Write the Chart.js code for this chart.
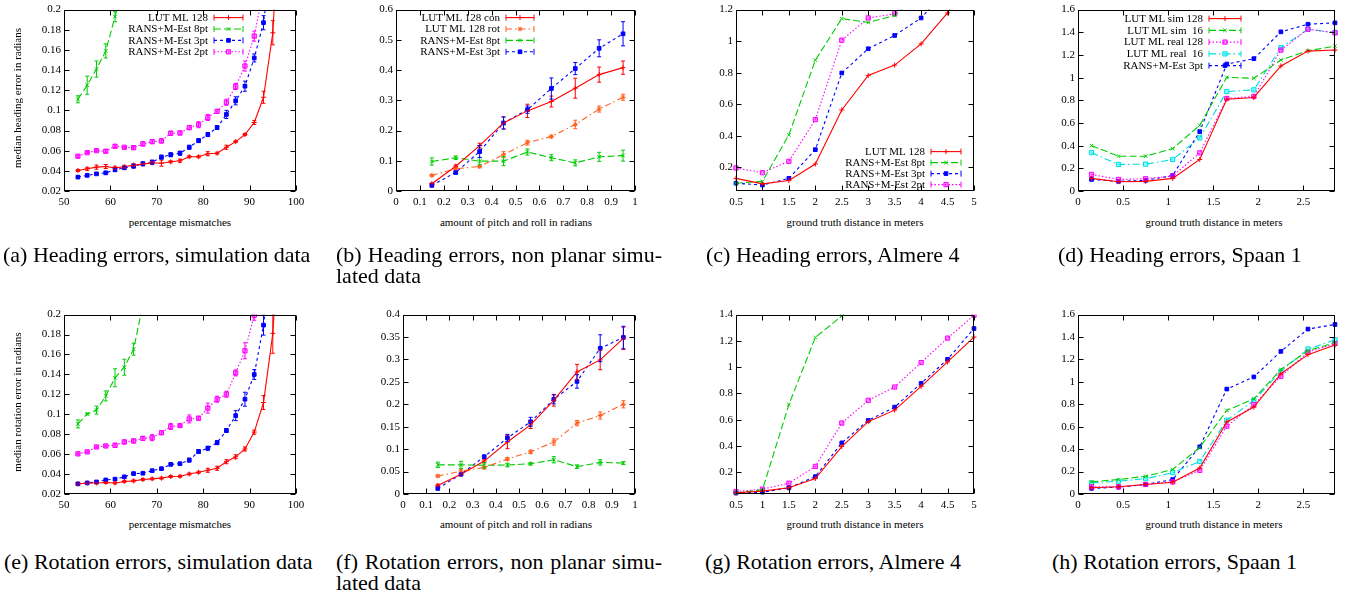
<!DOCTYPE html>
<html>
<head>
<meta charset="utf-8">
<script src="https://cdn.jsdelivr.net/npm/chart.js@4.4.0/dist/chart.umd.min.js"></script>
<style>
  body { margin: 0; background: #fff; width: 1351px; height: 597px; position: relative; overflow: hidden; font-family: 'Liberation Serif', 'Times New Roman', serif; color: #000; }
  canvas { position: absolute; }
  .cap { position: absolute; font-size: 22px; line-height: 21px; white-space: nowrap; }
  .just { width: 326px; text-align: justify; text-align-last: justify; }
  .xt { position: absolute; width: 300px; text-align: center; font-size: 11px; line-height: 12px; }
  .yt { position: absolute; width: 220px; text-align: center; font-size: 11px; line-height: 12px; transform: rotate(-90deg); }
</style>
</head>
<body>
<canvas id="ca"></canvas><canvas id="cb"></canvas><canvas id="cc"></canvas><canvas id="cd"></canvas>
<canvas id="ce"></canvas><canvas id="cf"></canvas><canvas id="cg"></canvas><canvas id="ch"></canvas>

<div class="yt" style="left:-93px;top:92px">median heading error in radians</div>
<div class="yt" style="left:-93px;top:396px">median rotation error in radians</div>

<div class="xt" style="left:30px;top:216px">percentage mismatches</div>
<div class="xt" style="left:366px;top:216px">amount of pitch and roll in radians</div>
<div class="xt" style="left:705px;top:216px">ground truth distance in meters</div>
<div class="xt" style="left:1064px;top:216px">ground truth distance in meters</div>
<div class="xt" style="left:30px;top:518px">percentage mismatches</div>
<div class="xt" style="left:366px;top:518px">amount of pitch and roll in radians</div>
<div class="xt" style="left:705px;top:518px">ground truth distance in meters</div>
<div class="xt" style="left:1064px;top:518px">ground truth distance in meters</div>

<div class="cap" style="left:3px;top:244px">(a) Heading errors, simulation data</div>
<div class="cap just" style="left:336px;top:244px">(b) Heading errors, non planar simu-</div>
<div class="cap" style="left:336px;top:265px">lated data</div>
<div class="cap" style="left:706px;top:244px">(c) Heading errors, Almere 4</div>
<div class="cap" style="left:1058px;top:244px">(d) Heading errors, Spaan 1</div>
<div class="cap" style="left:4px;top:551px">(e) Rotation errors, simulation data</div>
<div class="cap just" style="left:336px;top:551px">(f) Rotation errors, non planar simu-</div>
<div class="cap" style="left:336px;top:572px">lated data</div>
<div class="cap" style="left:705px;top:551px">(g) Rotation errors, Almere 4</div>
<div class="cap" style="left:1052px;top:551px">(h) Rotation errors, Spaan 1</div>

<script>
// ---- data ----
const aX = [53, 55, 57, 59, 61, 63, 65, 67, 69, 71, 73, 75, 77, 79, 81, 83, 85, 87, 89, 91, 93, 95, 97];
const aLut = [0.0404, 0.042, 0.0437, 0.0443, 0.043, 0.044, 0.0457, 0.0467, 0.048, 0.0476, 0.049, 0.050, 0.054, 0.054, 0.057, 0.0575, 0.0634, 0.069, 0.076, 0.088, 0.113, 0.177, 0.34];
const aLutErr = [0.001, 0.0015, 0.002, 0.002, 0.0015, 0.0015, 0.001, 0.001, 0.0015, 0.003, 0.001, 0.0015, 0.001, 0.001, 0.002, 0.001, 0.002, 0.001, 0.001, 0.002, 0.006, 0.012, 0];
const aM8 = [0.111, 0.125, 0.141, 0.159, 0.193, 0.23];
const aM8Err = [0.0035, 0.009, 0.008, 0.007, 0.005, 0];
const aM3 = [0.0338, 0.0355, 0.037, 0.038, 0.041, 0.043, 0.0447, 0.047, 0.0486, 0.0536, 0.056, 0.0575, 0.0634, 0.070, 0.076, 0.083, 0.096, 0.1095, 0.124, 0.152, 0.187, 0.26];
const aM3Err = [0.001, 0.001, 0.001, 0.0015, 0.0015, 0.0015, 0.002, 0.002, 0.002, 0.002, 0.002, 0.002, 0.002, 0.002, 0.002, 0.002, 0.004, 0.004, 0.005, 0.004, 0.007, 0];
const aM2 = [0.0545, 0.058, 0.060, 0.0595, 0.0644, 0.0634, 0.063, 0.0667, 0.069, 0.0697, 0.0773, 0.0776, 0.0829, 0.0858, 0.093, 0.099, 0.108, 0.1237, 0.144, 0.1737, 0.22];
const aM2Err = [0.001, 0.001, 0.001, 0.0015, 0.0015, 0.001, 0.0015, 0.002, 0.002, 0.002, 0.002, 0.002, 0.002, 0.003, 0.003, 0.002, 0.003, 0.003, 0.005, 0.005, 0];

const bX = [0.15, 0.25, 0.35, 0.45, 0.55, 0.65, 0.75, 0.85, 0.95];
const bCon = [0.024, 0.082, 0.150, 0.225, 0.265, 0.296, 0.340, 0.385, 0.408];
const bConErr = [0.003, 0.004, 0.008, 0.02, 0.022, 0.018, 0.033, 0.025, 0.022];
const bRot = [0.0515, 0.0735, 0.081, 0.12, 0.16, 0.18, 0.22, 0.271, 0.310];
const bRotErr = [0.003, 0.003, 0.004, 0.01, 0.008, 0.004, 0.014, 0.01, 0.01];
const bM8 = [0.0976, 0.11, 0.0987, 0.0987, 0.129, 0.11, 0.093, 0.113, 0.117];
const bM8Err = [0.012, 0.006, 0.012, 0.015, 0.01, 0.01, 0.01, 0.015, 0.018];
const bM3 = [0.0186, 0.0614, 0.1305, 0.225, 0.269, 0.339, 0.405, 0.472, 0.52];
const bM3Err = [0.004, 0.005, 0.02, 0.02, 0.012, 0.035, 0.02, 0.028, 0.04];

const cX = [0.5, 1, 1.5, 2, 2.5, 3, 3.5, 4, 4.5, 5];
const cLut = [0.13, 0.095, 0.116, 0.221, 0.564, 0.783, 0.848, 0.983, 1.179, 1.42];
const cM8 = [0.099, 0.111, 0.406, 0.88, 1.143, 1.118, 1.162, 1.30];
const cM3 = [0.099, 0.088, 0.13, 0.312, 0.798, 0.952, 1.036, 1.147, 1.33];
const cM2 = [0.196, 0.166, 0.238, 0.503, 1.006, 1.147, 1.173, 1.30];

const dX = [0.15, 0.45, 0.75, 1.05, 1.35, 1.65, 1.95, 2.25, 2.55, 2.85];
const dSim128 = [0.111, 0.082, 0.085, 0.111, 0.278, 0.81, 0.825, 1.103, 1.234, 1.243];
const dSim16 = [0.40, 0.307, 0.307, 0.374, 0.579, 1.003, 0.994, 1.155, 1.237, 1.278];
const dReal128 = [0.146, 0.102, 0.108, 0.132, 0.336, 0.816, 0.834, 1.243, 1.427, 1.395];
const dReal16 = [0.339, 0.234, 0.237, 0.278, 0.468, 0.877, 0.892, 1.264, 1.427, 1.398];
const dM3 = [0.102, 0.085, 0.094, 0.137, 0.524, 1.12, 1.167, 1.404, 1.471, 1.483];

const eLut = [0.0302, 0.031, 0.0311, 0.0316, 0.031, 0.0326, 0.0332, 0.0345, 0.0352, 0.0359, 0.0375, 0.0378, 0.0401, 0.0418, 0.0438, 0.0458, 0.0524, 0.0573, 0.0652, 0.0821, 0.1118, 0.1812, 0.33];
const eLutErr = [0.001, 0.001, 0.001, 0.001, 0.001, 0.001, 0.001, 0.001, 0.001, 0.001, 0.001, 0.001, 0.001, 0.001, 0.002, 0.002, 0.002, 0.002, 0.002, 0.002, 0.007, 0.02, 0];
const eM8 = [0.0903, 0.1003, 0.1042, 0.1184, 0.1366, 0.1472, 0.1653, 0.21];
const eM8Err = [0.004, 0.001, 0.004, 0.005, 0.009, 0.008, 0.006, 0];
const eM3 = [0.0302, 0.0311, 0.0321, 0.0341, 0.0349, 0.0372, 0.0405, 0.0408, 0.0434, 0.0454, 0.0497, 0.0504, 0.054, 0.0626, 0.0659, 0.0715, 0.0837, 0.0986, 0.1151, 0.1399, 0.1894, 0.27];
const eM3Err = [0.001, 0.001, 0.001, 0.001, 0.001, 0.001, 0.001, 0.001, 0.001, 0.001, 0.001, 0.001, 0.002, 0.002, 0.002, 0.002, 0.002, 0.005, 0.007, 0.005, 0.01, 0];
const eM2 = [0.0603, 0.0623, 0.0672, 0.0682, 0.0689, 0.0722, 0.0732, 0.0758, 0.0765, 0.0815, 0.0877, 0.0887, 0.0953, 0.096, 0.1062, 0.1151, 0.1201, 0.1415, 0.1637, 0.1993, 0.25];
const eM2Err = [0.001, 0.001, 0.001, 0.001, 0.002, 0.002, 0.002, 0.002, 0.003, 0.002, 0.003, 0.001, 0.004, 0.002, 0.005, 0.003, 0.003, 0.003, 0.008, 0.005, 0];

const fCon = [0.019, 0.044, 0.0734, 0.116, 0.154, 0.209, 0.272, 0.299, 0.347];
const fConErr = [0.003, 0.003, 0.004, 0.015, 0.008, 0.013, 0.017, 0.022, 0.025];
const fRot = [0.040, 0.051, 0.059, 0.078, 0.094, 0.116, 0.158, 0.175, 0.200];
const fRotErr = [0.002, 0.003, 0.003, 0.003, 0.004, 0.007, 0.006, 0.008, 0.008];
const fM8 = [0.065, 0.065, 0.064, 0.0646, 0.0675, 0.0763, 0.061, 0.0705, 0.069];
const fM8Err = [0.006, 0.008, 0.006, 0.004, 0.003, 0.007, 0.004, 0.006, 0.003];
const fM3 = [0.0125, 0.044, 0.083, 0.125, 0.161, 0.211, 0.251, 0.325, 0.349];
const fM3Err = [0.003, 0.003, 0.004, 0.008, 0.01, 0.01, 0.015, 0.03, 0.025];

const gLut = [0.044, 0.057, 0.082, 0.152, 0.396, 0.585, 0.673, 0.854, 1.04, 1.229];
const gM8 = [0.044, 0.067, 0.716, 1.226, 1.39, 1.6];
const gM3 = [0.042, 0.049, 0.082, 0.167, 0.424, 0.595, 0.696, 0.877, 1.06, 1.294];
const gM2 = [0.054, 0.072, 0.117, 0.245, 0.575, 0.748, 0.849, 1.035, 1.221, 1.395];

const hSim128 = [0.056, 0.064, 0.085, 0.105, 0.231, 0.643, 0.775, 1.073, 1.243, 1.328];
const hSim16 = [0.108, 0.129, 0.158, 0.219, 0.415, 0.746, 0.848, 1.111, 1.278, 1.351];
const hReal128 = [0.064, 0.064, 0.085, 0.108, 0.211, 0.605, 0.796, 1.05, 1.264, 1.342];
const hReal16 = [0.099, 0.114, 0.137, 0.19, 0.29, 0.658, 0.834, 1.094, 1.293, 1.375];
const hM3 = [0.05, 0.061, 0.085, 0.129, 0.421, 0.936, 1.044, 1.272, 1.471, 1.512];

// tick labels
const pctTicks = [50, 60, 70, 80, 90, 100];
const pctYTicks = [0.02, 0.04, 0.06, 0.08, 0.1, 0.12, 0.14, 0.16, 0.18, 0.2];
const pitchTicks = [0, 0.1, 0.2, 0.3, 0.4, 0.5, 0.6, 0.7, 0.8, 0.9, 1];
const pitchYTicks = [0, 0.1, 0.2, 0.3, 0.4, 0.5, 0.6];
const pitchRotYTicks = [0, 0.05, 0.1, 0.15, 0.2, 0.25, 0.3, 0.35, 0.4];
const almereTicks = [0.5, 1, 1.5, 2, 2.5, 3, 3.5, 4, 4.5, 5];
const almereYTicks = [0.2, 0.4, 0.6, 0.8, 1, 1.2];
const almereRotYTicks = [0.2, 0.4, 0.6, 0.8, 1, 1.2, 1.4];
const spaanTicks = [0, 0.5, 1, 1.5, 2, 2.5];
const spaanYTicks = [0, 0.2, 0.4, 0.6, 0.8, 1, 1.2, 1.4, 1.6];

// ---- styling ----
const FONT = "'Liberation Serif', 'Times New Roman', serif";
const sty = {
    red:     { color: '#ff0000', dash: [], point: 'cross', r: 2.5, fill: '#ff0000' },
    green:   { color: '#00cc00', dash: [7, 3], point: 'crossRot', r: 2.5, fill: '#00cc00' },
    blue:    { color: '#0000ff', dash: [3, 3], point: 'rect', r: 2.6, fill: '#0000ff' },
    magenta: { color: '#ff00ff', dash: [1.5, 2], point: 'rect', r: 3, fill: 'rgba(255,0,255,0.45)' },
    orange:  { color: '#ff6020', dash: [6, 3, 1.5, 3], point: 'star', r: 2.5, fill: '#ff6020' },
    cyan:    { color: '#00dcdc', dash: [7, 3, 1.5, 3], point: 'rect', r: 3, fill: 'rgba(0,255,255,0.45)' }
};

function series(label, xs, ys, s, err) {
    return {
        label: label,
        data: ys.map((y, i) => ({ x: xs[i], y: y })),
        err: err,
        borderColor: s.color,
        backgroundColor: s.fill,
        borderDash: s.dash,
        borderWidth: 1.1,
        pointStyle: s.point,
        pointRadius: s.r,
        pointBorderWidth: 1,
        pointBorderColor: s.color,
        pointBackgroundColor: s.fill,
        tension: 0,
        clip: { left: 6, right: 6, top: 0, bottom: 6 }
    };
}

const fmt = v => String(+v.toFixed(3));

// gnuplot-like frame, inward mirrored ticks, error bars and key
const gnuFrame = {
    id: 'gnuFrame',
    afterDatasetsDraw(chart, args, opts) {
        const { ctx, chartArea: a } = chart;
        const xs = chart.scales.x, ys = chart.scales.y;

        ctx.save();
        ctx.beginPath();
        ctx.rect(a.left, a.top, a.width, a.height + 4);
        ctx.clip();
        chart.data.datasets.forEach(ds => {
            if (!ds.err) return;
            ctx.strokeStyle = ds.borderColor;
            ctx.lineWidth = 1;
            ctx.setLineDash([]);
            ctx.beginPath();
            ds.data.forEach((p, j) => {
                const e = ds.err[j];
                if (!e) return;
                const px = xs.getPixelForValue(p.x);
                const t = ys.getPixelForValue(p.y + e), b = ys.getPixelForValue(p.y - e);
                ctx.moveTo(px, t); ctx.lineTo(px, b);
                ctx.moveTo(px - 2, t); ctx.lineTo(px + 2, t);
                ctx.moveTo(px - 2, b); ctx.lineTo(px + 2, b);
            });
            ctx.stroke();
        });
        ctx.restore();

        ctx.save();
        ctx.strokeStyle = '#000';
        ctx.lineWidth = 1;
        ctx.setLineDash([]);
        const L = Math.round(a.left) + 0.5, R = Math.round(a.right) - 0.5;
        const T = Math.round(a.top) + 0.5, B = Math.round(a.bottom) - 0.5;
        ctx.strokeRect(L, T, R - L, B - T);
        ctx.beginPath();
        xs.ticks.forEach(t => {
            const px = Math.round(xs.getPixelForValue(t.value)) + 0.5;
            ctx.moveTo(px, B); ctx.lineTo(px, B - 5);
            ctx.moveTo(px, T); ctx.lineTo(px, T + 5);
        });
        ys.ticks.forEach(t => {
            const py = Math.round(ys.getPixelForValue(t.value)) + 0.5;
            ctx.moveTo(L, py); ctx.lineTo(L + 5, py);
            ctx.moveTo(R, py); ctx.lineTo(R - 5, py);
        });
        ctx.stroke();

        const key = opts.key;
        if (key) {
            ctx.font = '11px ' + FONT;
            ctx.textAlign = 'right';
            ctx.textBaseline = 'middle';
            chart.data.datasets.forEach((ds, i) => {
                const y = a.top + key.dy + i * key.gap;
                const x0 = a.left + key.dx;
                ctx.fillStyle = '#000';
                ctx.fillText(ds.label, x0, y + 0.5);
                const s0 = x0 + 6, s1 = s0 + key.len;
                ctx.strokeStyle = ds.borderColor;
                ctx.lineWidth = 1.1;
                ctx.setLineDash(ds.borderDash);
                ctx.beginPath();
                ctx.moveTo(s0, y); ctx.lineTo(s1, y);
                ctx.stroke();
                ctx.setLineDash([]);
                ctx.lineWidth = 1;
                ctx.beginPath();
                ctx.moveTo(s0, y - 3); ctx.lineTo(s0, y + 3);
                ctx.moveTo(s1, y - 3); ctx.lineTo(s1, y + 3);
                ctx.stroke();
                if (Chart.helpers && Chart.helpers.drawPoint) {
                    ctx.fillStyle = ds.pointBackgroundColor;
                    ctx.strokeStyle = ds.pointBorderColor;
                    Chart.helpers.drawPoint(ctx, { pointStyle: ds.pointStyle, radius: ds.pointRadius, rotation: 0, borderWidth: 1 }, (s0 + s1) / 2, y);
                }
            });
        }
        ctx.restore();
    }
};

const tickFont = { family: FONT, size: 11 };

function makeChart(id, box, datasets, xr, yr, xTicks, yTicks, key) {
    const canvas = document.getElementById(id);
    canvas.width = box.w + 78;
    canvas.height = box.h + 32;
    canvas.style.left = (box.l - 62) + 'px';
    canvas.style.top = (box.t - 8) + 'px';
    return new Chart(canvas, {
        type: 'line',
        data: { datasets: datasets },
        options: {
            responsive: false,
            animation: false,
            events: [],
            layout: { padding: { top: 8, right: 16, bottom: 0, left: 0 } },
            plugins: {
                legend: { display: false },
                tooltip: { enabled: false },
                gnuFrame: { key: key || null }
            },
            scales: {
                x: {
                    type: 'linear', min: xr[0], max: xr[1],
                    grid: { display: false, drawTicks: false },
                    border: { display: false },
                    ticks: { font: tickFont, color: '#000', padding: 5, maxRotation: 0, autoSkip: false, callback: fmt },
                    afterBuildTicks: s => { s.ticks = xTicks.map(v => ({ value: v })); },
                    afterFit: s => { s.height = 24; }
                },
                y: {
                    type: 'linear', min: yr[0], max: yr[1],
                    grid: { display: false, drawTicks: false },
                    border: { display: false },
                    ticks: { font: tickFont, color: '#000', padding: 3, autoSkip: false, callback: fmt },
                    afterBuildTicks: s => { s.ticks = yTicks.map(v => ({ value: v })); },
                    afterFit: s => { s.width = 62; }
                }
            }
        },
        plugins: [gnuFrame]
    });
}

makeChart('ca', { l: 64, t: 8, w: 232, h: 183 }, [
    series('LUT ML 128', aX, aLut, sty.red, aLutErr),
    series('RANS+M-Est 8pt', aX, aM8, sty.green, aM8Err),
    series('RANS+M-Est 3pt', aX, aM3, sty.blue, aM3Err),
    series('RANS+M-Est 2pt', aX, aM2, sty.magenta, aM2Err)
], [50, 100], [0.02, 0.2], pctTicks, pctYTicks, { dx: 144, dy: 8, gap: 11.4, len: 29 });

makeChart('cb', { l: 396, t: 8, w: 239, h: 183 }, [
    series('LUT ML 128 con', bX, bCon, sty.red, bConErr),
    series('LUT ML 128 rot', bX, bRot, sty.orange, bRotErr),
    series('RANS+M-Est 8pt', bX, bM8, sty.green, bM8Err),
    series('RANS+M-Est 3pt', bX, bM3, sty.blue, bM3Err)
], [0, 1], [0, 0.6], pitchTicks, pitchYTicks, { dx: 104, dy: 8, gap: 11.4, len: 28 });

makeChart('cc', { l: 736, t: 8, w: 238, h: 183 }, [
    series('LUT ML 128', cX, cLut, sty.red, null),
    series('RANS+M-Est 8pt', cX, cM8, sty.green, null),
    series('RANS+M-Est 3pt', cX, cM3, sty.blue, null),
    series('RANS+M-Est 2pt', cX, cM2, sty.magenta, null)
], [0.5, 5], [0.05, 1.2], almereTicks, almereYTicks, { dx: 189, dy: 142, gap: 11, len: 30 });

makeChart('cd', { l: 1078, t: 8, w: 257, h: 183 }, [
    series('LUT ML sim 128', dX, dSim128, sty.red, null),
    series('LUT ML sim  16', dX, dSim16, sty.green, null),
    series('LUT ML real 128', dX, dReal128, sty.magenta, null),
    series('LUT ML real  16', dX, dReal16, sty.cyan, null),
    series('RANS+M-Est 3pt', dX, dM3, sty.blue, null)
], [0, 2.85], [0, 1.6], spaanTicks, spaanYTicks, { dx: 125, dy: 9, gap: 11.75, len: 32 });

makeChart('ce', { l: 64, t: 313, w: 232, h: 181 }, [
    series('LUT ML 128', aX, eLut, sty.red, eLutErr),
    series('RANS+M-Est 8pt', aX, eM8, sty.green, eM8Err),
    series('RANS+M-Est 3pt', aX, eM3, sty.blue, eM3Err),
    series('RANS+M-Est 2pt', aX, eM2, sty.magenta, eM2Err)
], [50, 100], [0.02, 0.2], pctTicks, pctYTicks, null);

makeChart('cf', { l: 403, t: 313, w: 232, h: 181 }, [
    series('LUT ML 128 con', bX, fCon, sty.red, fConErr),
    series('LUT ML 128 rot', bX, fRot, sty.orange, fRotErr),
    series('RANS+M-Est 8pt', bX, fM8, sty.green, fM8Err),
    series('RANS+M-Est 3pt', bX, fM3, sty.blue, fM3Err)
], [0, 1], [0, 0.4], pitchTicks, pitchRotYTicks, null);

makeChart('cg', { l: 736, t: 313, w: 238, h: 181 }, [
    series('LUT ML 128', cX, gLut, sty.red, null),
    series('RANS+M-Est 8pt', cX, gM8, sty.green, null),
    series('RANS+M-Est 3pt', cX, gM3, sty.blue, null),
    series('RANS+M-Est 2pt', cX, gM2, sty.magenta, null)
], [0.5, 5], [0.035, 1.4], almereTicks, almereRotYTicks, null);

makeChart('ch', { l: 1078, t: 313, w: 257, h: 181 }, [
    series('LUT ML sim 128', dX, hSim128, sty.red, null),
    series('LUT ML sim  16', dX, hSim16, sty.green, null),
    series('LUT ML real 128', dX, hReal128, sty.magenta, null),
    series('LUT ML real  16', dX, hReal16, sty.cyan, null),
    series('RANS+M-Est 3pt', dX, hM3, sty.blue, null)
], [0, 2.85], [0, 1.6], spaanTicks, spaanYTicks, null);
</script>
</body>
</html>
